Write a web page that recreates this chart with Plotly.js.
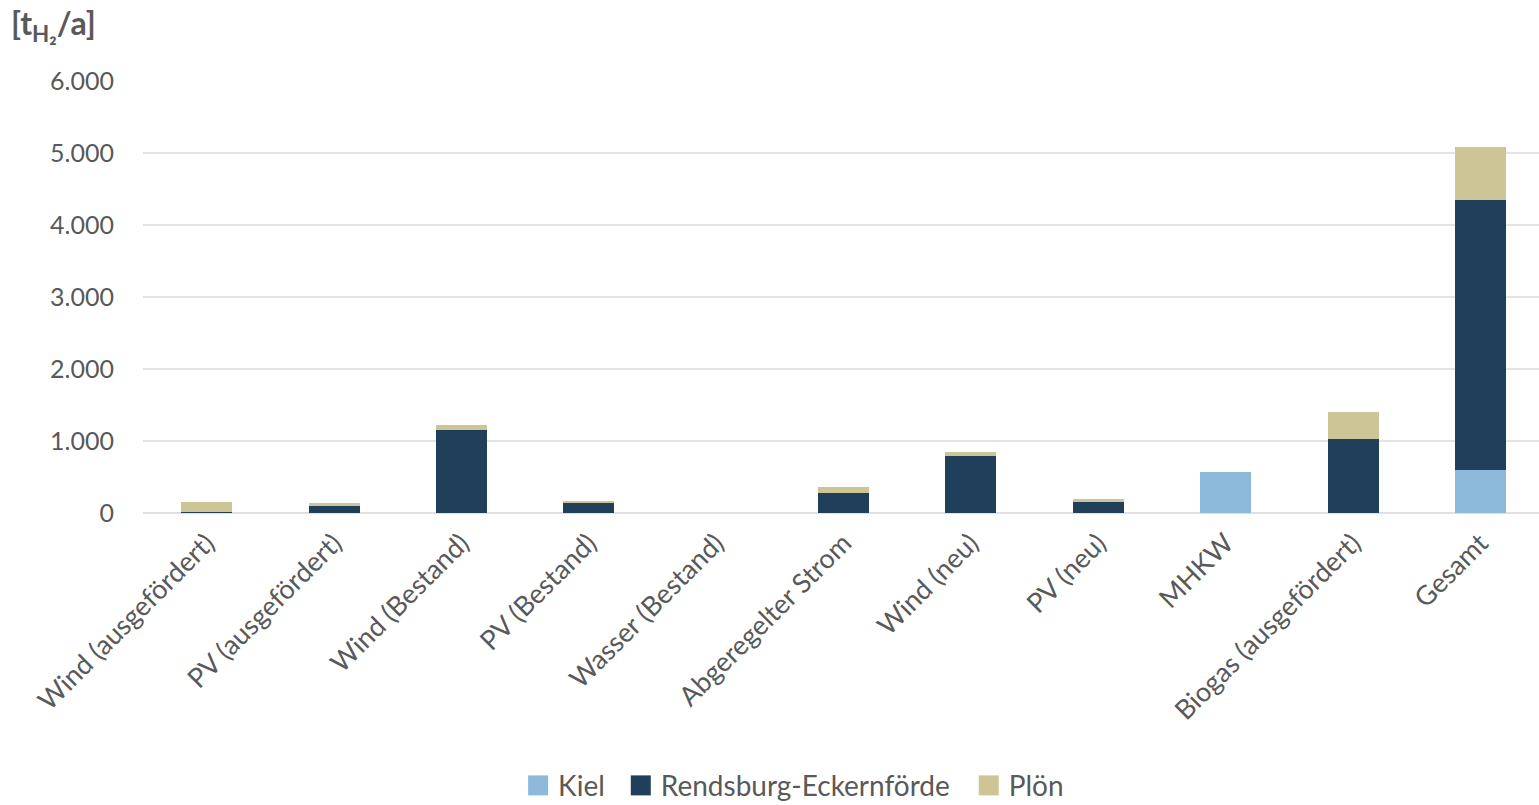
<!DOCTYPE html>
<html>
<head>
<meta charset="utf-8">
<script src="https://cdn.plot.ly/plotly-3.0.1.min.js"></script>
<style>html,body{margin:0;padding:0;background:#fff;} #chart{width:1539px;height:805px;}</style>
</head>
<body>
<div id="chart"></div>
<script>
const categories = ["Wind (ausgefördert)", "PV (ausgefördert)", "Wind (Bestand)", "PV (Bestand)", "Wasser (Bestand)", "Abgeregelter Strom", "Wind (neu)", "PV (neu)", "MHKW", "Biogas (ausgefördert)", "Gesamt"];
const kiel       = [0, 0, 0, 0, 0, 0, 0, 0, 570, 0, 600];
const rendsburg  = [15, 100, 1150, 137, 0, 275, 786, 153, 0, 1030, 3750];
const ploen      = [137, 37, 71, 29, 0, 85, 56, 42, 0, 368, 730];
const yTicks = [0, 1000, 2000, 3000, 4000, 5000, 6000];
const yTickText = ["0", "1.000", "2.000", "3.000", "4.000", "5.000", "6.000"];

const fontFam = "Lato, 'Open Sans', sans-serif";
const grey = "#595959";

const traces = [
  {name: "Kiel", x: categories, y: kiel, type: "bar", marker: {color: "#8DB9DB"}},
  {name: "Rendsburg-Eckernförde", x: categories, y: rendsburg, type: "bar", marker: {color: "#1F3F5B"}},
  {name: "Plön", x: categories, y: ploen, type: "bar", marker: {color: "#CEC597"}}
];

const layout = {
  width: 1539, height: 805,
  barmode: "stack",
  bargap: 0.6,
  margin: {l: 143, r: 0, t: 81, b: 292, pad: 0},
  paper_bgcolor: "#fff", plot_bgcolor: "#fff",
  font: {family: fontFam, color: grey, size: 24},
  showlegend: true,
  legend: {orientation: "h", xref: "container", yref: "container", x: 0.516, xanchor: "center", y: 0.024, yanchor: "middle",
           font: {size: 28, color: grey}, traceorder: "normal", itemwidth: 30, bgcolor: "rgba(0,0,0,0)"},
  xaxis: {type: "category", range: [-0.5, 10.46], tickangle: -45, tickfont: {size: 27, color: grey}, showgrid: false, showline: false,
          ticks: "", ticklabelstandoff: 8, automargin: false},
  yaxis: {range: [0, 6000], tickvals: yTicks, ticktext: yTickText, tickfont: {size: 25, color: grey},
          showgrid: true, gridcolor: "#e4e4e4", gridwidth: 1.5, zeroline: true, zerolinecolor: "#e0e0e0", zerolinewidth: 1.5,
          showline: false, ticks: "", ticklabelstandoff: 28, automargin: false, fixedrange: true},
  annotations: [{text: "[t<sub>H₂</sub>/a]", xref: "paper", yref: "paper", x: -0.096, y: 1.13, xanchor: "left", yanchor: "middle",
                 showarrow: false, font: {size: 32, color: grey, family: fontFam, weight: 700}}]
};

const legendShift = [-13, -2, 12];

Plotly.newPlot("chart", traces, layout, {displayModeBar: false, staticPlot: true}).then(function (gd) {
  gd.querySelectorAll(".legend [clip-path]").forEach(function (el) { el.removeAttribute("clip-path"); });
  gd.querySelectorAll(".legend .legendpoints path").forEach(function (p) {
    p.setAttribute("d", "M10,10H-10V-10H10Z");
  });
  gd.querySelectorAll(".legend .traces").forEach(function (g, i) {
    const t = g.getAttribute("transform") || "";
    const m = t.match(/translate\(\s*([-\d.e]+)[ ,]+([-\d.e]+)\s*\)/);
    if (m) {
      g.setAttribute("transform", "translate(" + (parseFloat(m[1]) + (legendShift[i] || 0)) + "," + m[2] + ")");
    }
  });
});
</script>
</body>
</html>
